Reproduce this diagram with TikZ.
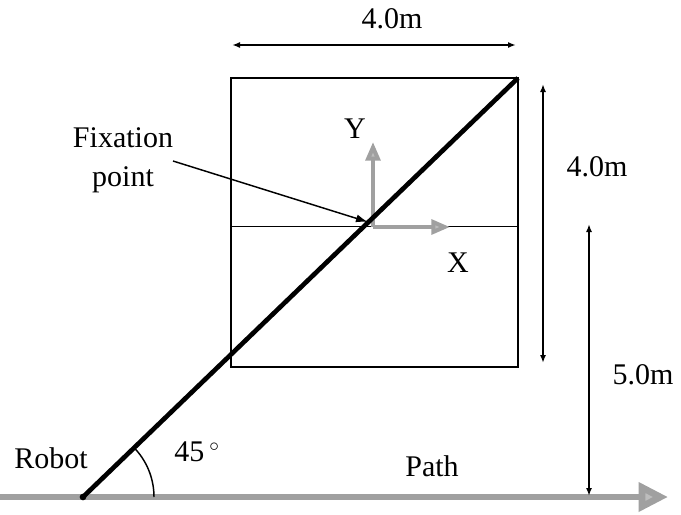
\documentclass[tikz,border=0pt]{standalone}
\usepackage{fontspec}
\setmainfont{Liberation Serif}
\usepackage{tikz}
\usetikzlibrary{arrows.meta,positioning,calc}
\definecolor{pathgray}{RGB}{160,160,160}

\begin{document}
\begin{tikzpicture}[x=0.75pt,y=-0.75pt,
    lbl/.style={font=\fontsize{22.5}{29}\selectfont,inner sep=1pt},
    dim/.style={{Latex[length=6pt,width=4.5pt]}-{Latex[length=6pt,width=4.5pt]},line width=1.2pt},
    axis/.style={-{Triangle[length=14pt,width=11pt,fill=pathgray!70]},draw=pathgray,line width=3pt},
    pathline/.style={-{Triangle[length=22pt,width=21pt,fill=pathgray!70]},draw=pathgray,line width=5pt}
  ]
    \useasboundingbox (0,0) rectangle (681,514);
    % key points
    \coordinate (robot) at (83,497);
    \coordinate (pathstart) at (0,497);
    \coordinate (pathend) at (668,497);
    \coordinate (sqsw) at (231,367);
    \coordinate (sqne) at (518,78);
    \coordinate (midl) at (231,226);
    \coordinate (midr) at (518,226);
    \coordinate (origin) at (373,227);
    \coordinate (fix) at (368,222);
    % path and square
    \draw[pathline] (pathstart) -- (pathend);
    \draw[line width=1.6pt] (sqsw) rectangle (sqne);
    \draw[line width=0.7pt] (midl) -- (midr);
    % local axes
    \draw[axis] (origin) -- ++(0,-85) coordinate (yend);
    \draw[axis] (origin) -- ++(77,0) coordinate (xend);
    \node[lbl] (ylab) at (355,129) {Y};
    \node[lbl] (xlab) at (458,263) {X};
    % line of sight
    \draw[line width=3.5pt] (robot) -- (sqne);
    \fill (robot) circle (2.5pt);
    \draw[line width=1.1pt] (robot) ++(71,0) arc[start angle=0,end angle=-45,radius=71];
    % labels
    \node[lbl,align=center] (fixlab) at (123,160) {Fixation\\point};
    \coordinate (fixtail) at (173,161);
    \draw[-{Latex[length=9pt,width=6pt]},line width=1.1pt] (fixtail) -- (fix);
    \node[lbl] (robotlab) at (51,458) {Robot};
    \node[lbl] (anglab) at (197,452) {45\,$^{\circ}$};
    \node[lbl] (pathlab) at (432,466) {Path};
    % dimensions
    \coordinate (topl) at (232,45);
    \coordinate (topr) at (516,45);
    \draw[dim] (topl) -- (topr);
    \node[lbl] (topdim) at (392,19) {4.0m};
    \coordinate (rt) at (543,84);
    \coordinate (rb) at (543,363);
    \draw[dim] (rt) -- (rb);
    \node[lbl] (rdim) at (597,167) {4.0m};
    \coordinate (ht) at (589,224);
    \coordinate (hb) at (589,496);
    \draw[dim] (ht) -- (hb);
    \node[lbl] (hdim) at (643,375) {5.0m};
\end{tikzpicture}
\end{document}
